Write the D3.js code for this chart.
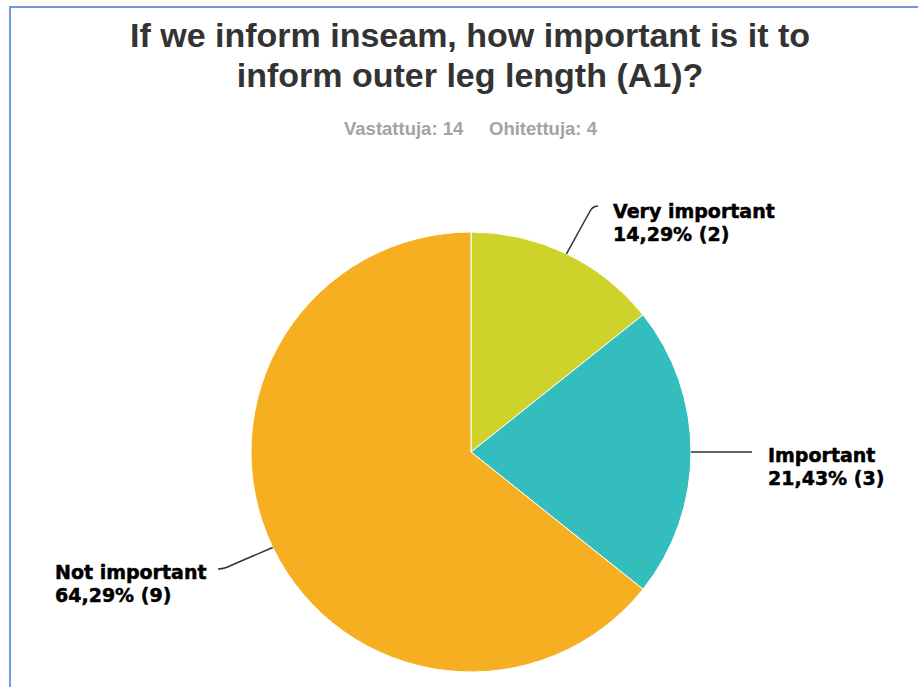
<!DOCTYPE html>
<html>
<head>
<meta charset="utf-8">
<script src="https://cdn.jsdelivr.net/npm/d3@7"></script>
<style>
  html, body { margin: 0; padding: 0; background: #ffffff; }
  svg { display: block; }
</style>
</head>
<body>
<svg id="chart" width="918" height="687"></svg>
<script>
// Survey answers
const categories = ["Very important", "Important", "Not important"];
const counts = [2, 3, 9];
const colors = ["#cdd32a", "#34bdbd", "#f6af20"];
const titleLines = ["If we inform inseam, how important is it to", "inform outer leg length (A1)?"];
const answered = 14;
const skipped = 4;

// Label placement for each slice (leader elbow/end points and text anchor)
const labelLayout = [
  { elbow: [589, 213], ctrl: [592, 206], end: [598, 206], tx: 613, ty: 218, anchor: "start" },
  { elbow: null, ctrl: null, end: [752, 452], tx: 768, ty: 462, anchor: "start" },
  { elbow: [232, 565], ctrl: [226, 568.5], end: [218, 569], tx: 55, ty: 579, anchor: "start" }
];

const svg = d3.select("#chart");
const W = 918, H = 687;

// Frame
svg.append("rect")
  .attr("x", 10).attr("y", 7)
  .attr("width", W + 20).attr("height", H + 20)
  .attr("fill", "none")
  .attr("stroke", "#6f9bd8")
  .attr("stroke-width", 2);

// Title
const title = svg.append("text")
  .attr("text-anchor", "middle")
  .attr("font-family", "'Liberation Sans', Arial, sans-serif")
  .attr("font-weight", "bold")
  .attr("font-size", 34)
  .attr("fill", "#333333");
titleLines.forEach((t, i) => {
  title.append("tspan").attr("x", 470).attr("y", 47 + i * 40).text(t);
});

// Response counts
const sub = svg.append("g")
  .attr("font-family", "'Liberation Sans', Arial, sans-serif")
  .attr("font-weight", "bold")
  .attr("font-size", 18.5)
  .attr("fill", "#a3a3a3");
sub.append("text").attr("x", 344).attr("y", 135).text(`Vastattuja: ${answered}`);
sub.append("text").attr("x", 489).attr("y", 135).text(`Ohitettuja: ${skipped}`);

// Pie
const cx = 471, cy = 452, R = 220;
const total = d3.sum(counts);
const pie = d3.pie().sort(null).value(d => d)(counts);
const arc = d3.arc().innerRadius(0).outerRadius(R);

const g = svg.append("g").attr("transform", `translate(${cx},${cy})`);
g.selectAll("path.slice")
  .data(pie)
  .join("path")
  .attr("class", "slice")
  .attr("d", arc)
  .attr("fill", (d, i) => colors[i])
  .attr("stroke", "#ffffff")
  .attr("stroke-width", 1);

// Leader lines and labels
const fmt = v => (v * 100).toFixed(2).replace(".", ",") + "%";
pie.forEach((d, i) => {
  const a = (d.startAngle + d.endAngle) / 2;
  const sx = cx + R * Math.sin(a);
  const sy = cy - R * Math.cos(a);
  const L = labelLayout[i];
  const p = d3.path();
  p.moveTo(sx, sy);
  if (L.elbow) {
    p.lineTo(L.elbow[0], L.elbow[1]);
    p.quadraticCurveTo(L.ctrl[0], L.ctrl[1], L.end[0], L.end[1]);
  } else {
    p.lineTo(L.end[0], L.end[1]);
  }
  svg.append("path")
    .attr("d", p.toString())
    .attr("fill", "none")
    .attr("stroke", "#333333")
    .attr("stroke-width", 1.5);

  const t = svg.append("text")
    .attr("font-family", "'DejaVu Sans', sans-serif")
    .attr("font-weight", "bold")
    .attr("font-size", 19)
    .attr("fill", "#000000")
    .attr("stroke", "#000000")
    .attr("stroke-width", 0.5)
    .attr("text-anchor", L.anchor);
  t.append("tspan").attr("x", L.tx).attr("y", L.ty).text(categories[i]);
  t.append("tspan").attr("x", L.tx).attr("y", L.ty + 23)
    .text(`${fmt(counts[i] / total)} (${counts[i]})`);
});
</script>
</body>
</html>
